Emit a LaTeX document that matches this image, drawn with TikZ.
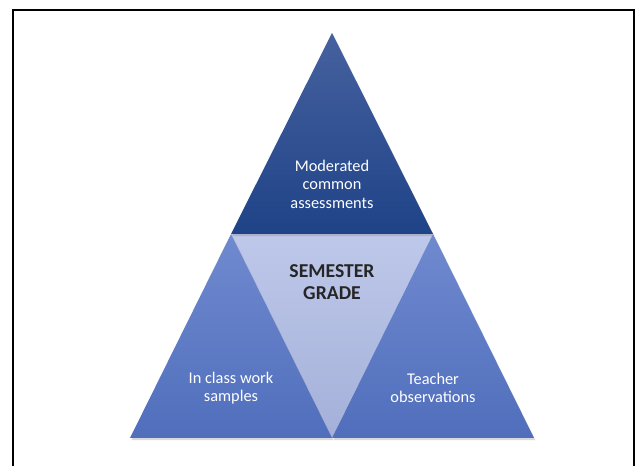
\documentclass[tikz,border=0pt]{standalone}
\usepackage{fontspec}
\setmainfont{Carlito}
\usepackage{tikz}
\usepackage{xcolor}
\usetikzlibrary{positioning, shadows, calc}

\definecolor{topdark}{RGB}{31,67,136}
\definecolor{toplight}{RGB}{70,97,158}
\definecolor{sidedark}{RGB}{80,110,188}
\definecolor{sidelight}{RGB}{112,138,207}
\definecolor{gradetop}{RGB}{190,200,234}
\definecolor{gradebot}{RGB}{164,176,217}

\begin{document}
\begin{tikzpicture}[
  tri/.style={drop shadow={opacity=0.3, shadow xshift=0.8pt, shadow yshift=-1.2pt}},
  toptri/.style={tri, top color=toplight, bottom color=topdark},
  sidetri/.style={tri, top color=sidelight, bottom color=sidedark},
  gradetri/.style={top color=gradetop, bottom color=gradebot},
  lbl/.style={font=\fontsize{9.3}{10.5}\selectfont, text=white, align=center},
  core/.style={font=\fontsize{11.2}{12.4}\selectfont\bfseries, text=black!85, align=center}
]
\useasboundingbox (0,0) rectangle (12.84,9.32);

% Frame (open at the bottom)
\draw[line width=1.1pt] (0.26,0) -- (0.26,9.12) -- (12.68,9.12) -- (12.68,0);

% Corners of the pyramid
\coordinate (apex) at (6.64,8.66);
\coordinate (midL) at (4.62,4.64);
\coordinate (midR) at (8.66,4.64);
\coordinate (botL) at (2.60,0.56);
\coordinate (botM) at (6.64,0.56);
\coordinate (botR) at (10.68,0.56);

% Triangles
\path[gradetri] (midL) -- (midR) -- (botM) -- cycle;
\path[sidetri] (midL) -- (botM) -- (botL) -- cycle;
\path[sidetri] (midR) -- (botR) -- (botM) -- cycle;
\path[toptri] (apex) -- (midR) -- (midL) -- cycle;

% Labels
\node[lbl] (moder) at (6.64,5.64) {Moderated\\common\\assessments};
\node[core] (grade) at (6.64,3.67) {SEMESTER\\GRADE};
\node[lbl] (work) at (4.62,1.56) {In class work\\samples};
\node[lbl] (obs) at (8.66,1.56) {Teacher\\observations};

\end{tikzpicture}
\end{document}
